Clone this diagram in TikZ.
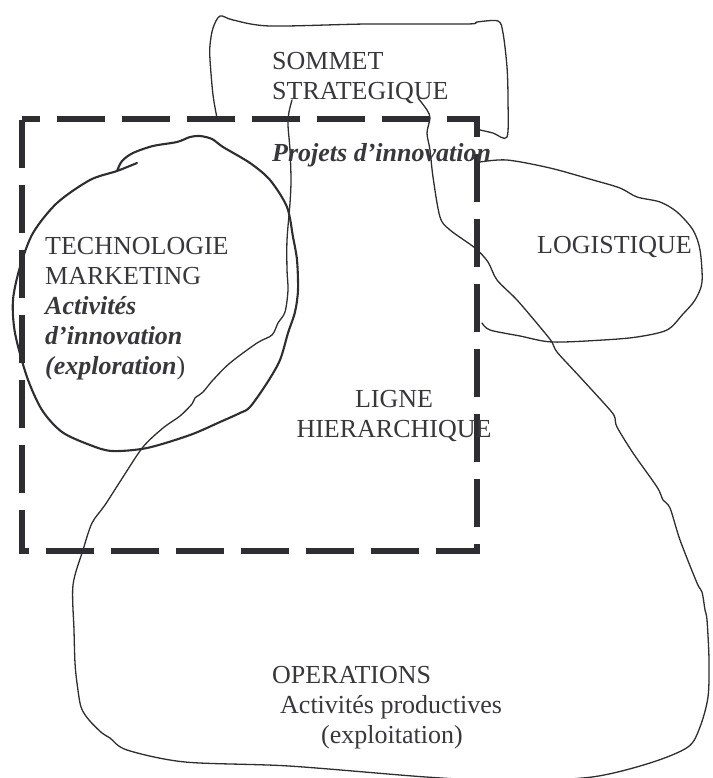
\documentclass[tikz,border=0pt]{standalone}
\usepackage{fontspec}
\setmainfont{Liberation Serif}
\definecolor{ink}{RGB}{45,45,50}
\definecolor{txt}{RGB}{55,55,60}
\tikzset{
  outline/.style={draw=ink, line width=1.3pt, line join=round, line cap=round},
  ring/.style={draw=ink, line width=2.1pt, line join=round, line cap=round},
  frame/.style={draw=ink, line width=6.5pt, dash pattern=on 48pt off 17pt, dash phase=30pt},
  lbl/.style={text=txt, font=\fontsize{26}{30}\selectfont, inner sep=0pt, anchor=base west},
  clbl/.style={lbl, anchor=base},
}
\begin{document}
\begin{tikzpicture}[x=1pt,y=-1pt]
\useasboundingbox (0,0) rectangle (712,778);
% sommet strategique
\draw[outline] plot[smooth, tension=0.5] coordinates {(217,118) (213,95) (210,60) (210,45) (213,28) (220,16) (233,20) (270,26) (367,24) (467,24) (477,22) (498,21) (503,33) (507,67) (508,100) (507,137) (493,133) (480,130)};
% operations + ligne hierarchique
\draw[outline] plot[smooth, tension=0.5] coordinates {(292,100) (289,112) (288,125) (290,150) (291,180) (290,203) (287,240) (287,270) (288,290) (285,312) (278,323) (272,335) (257,343) (230,363) (213,380) (203,392) (195,398) (192,404) (180,416) (163,428) (143,447) (123,477) (105,505) (92,523) (83,550) (73,585) (74,630) (75,663) (77,683) (81,707) (89,720) (102,733) (110,738) (127,750) (185,762) (289,766) (426,777) (510,781) (592,777) (650,763) (688,747) (700,727) (708,697) (709,660) (707,620) (705,610) (702,592) (697,583) (680,540) (670,508) (663,500) (657,487) (633,453) (617,427) (615,418) (610,410) (580,377) (557,352) (552,342) (540,327) (517,300) (497,280) (488,262) (475,248) (450,230) (440,217) (433,177) (430,150) (427,133) (430,118) (427,110) (418,98)};
% logistique
\draw[outline] plot[smooth, tension=0.5] coordinates {(480,162) (507,160) (550,168) (593,180) (620,188) (637,197) (660,202) (677,212) (693,230) (700,250) (702,282) (695,300) (683,314) (667,330) (637,337) (603,340) (552,342) (520,336) (490,330) (482,323)};
% technologie / marketing
\draw[ring] plot[smooth, tension=0.5] coordinates {(117,171) (122,161) (133,153) (153,146) (177,142) (190,137) (200,136) (212,139) (223,147) (250,163) (270,180) (287,207) (293,237) (297,260) (298,290) (295,312) (288,333) (280,360) (267,383) (250,407) (240,413) (220,422) (190,435) (147,448) (112,451) (90,445) (62,432) (42,410) (27,377) (15,333) (13,300) (20,267) (33,233) (57,203) (90,180) (117,171) (137,163)};
% dashed frame
\draw[frame] (22,119) -- (477,119) -- (477,551) -- (22,551) -- cycle;
% texts
\node[lbl] (s1) at (272,70) {SOMMET};
\node[lbl] (s2) at (272,100) {STRATEGIQUE};
\node[lbl] (pi) at (272,162) {\bfseries\itshape Projets d’innovation};
\node[lbl] (t1) at (45,254) {TECHNOLOGIE};
\node[lbl] (t2) at (45,284) {MARKETING};
\node[lbl] (t3) at (45,314) {\bfseries\itshape Activités};
\node[lbl] (t4) at (45,344) {\bfseries\itshape d’innovation};
\node[lbl] (t5) at (45,374) {{\bfseries\itshape (exploration}{)}};
\node[lbl] (lo) at (537,253) {LOGISTIQUE};
\node[clbl] (l1) at (394,407) {LIGNE};
\node[clbl] (l2) at (394,437) {HIERARCHIQUE};
\node[lbl] (o1) at (272,683) {OPERATIONS};
\node[lbl] (o2) at (280,713) {Activités productives};
\node[lbl] (o3) at (321,743) {(exploitation)};
\end{tikzpicture}
\end{document}
